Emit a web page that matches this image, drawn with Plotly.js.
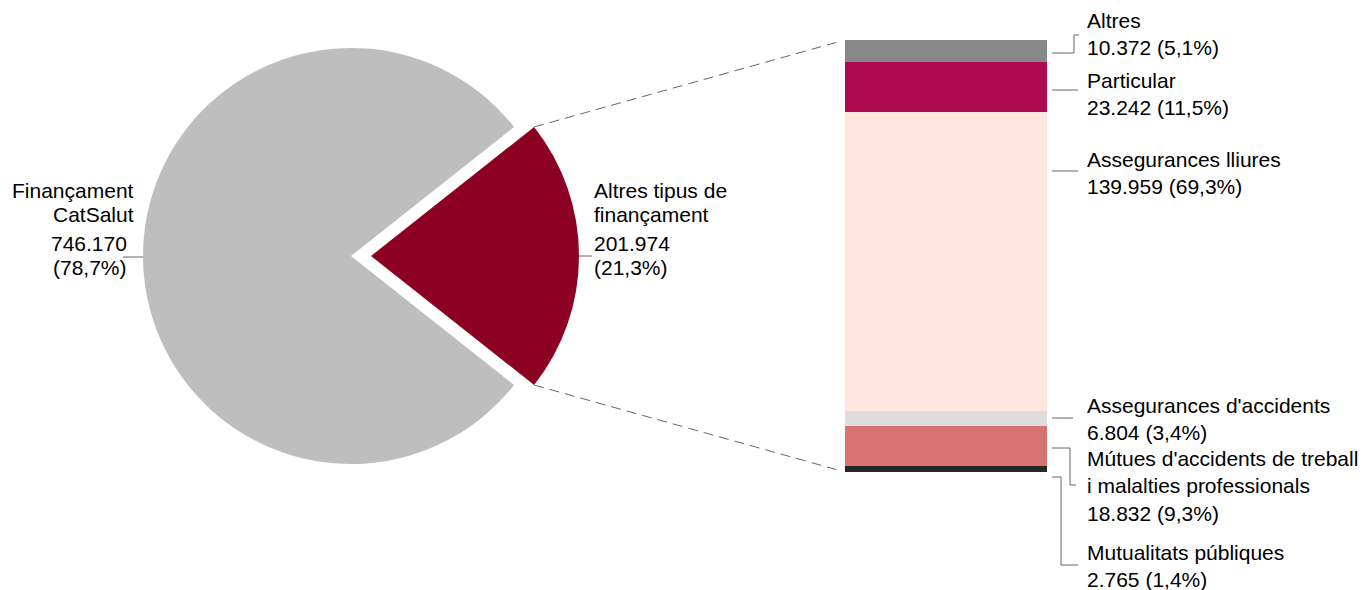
<!DOCTYPE html>
<html><head><meta charset="utf-8">
<script src="https://cdn.plot.ly/plotly-3.0.1.min.js"></script>
<style>html,body{margin:0;padding:0;background:#fff}</style>
</head><body><div id="chart" style="width:1364px;height:590px"></div>
<script>
// ---- data ----
const pieNames = [["Altres tipus de", "finançament"], ["Finançament", "CatSalut"]];
const pieValues = [201974, 746170];
const pieColors = ["#8C0024", "#BEBEBE"];

const subNames = ["Mutualitats públiques", "Mútues d'accidents de treball<br>i malalties professionals", "Assegurances d'accidents", "Assegurances lliures", "Particular", "Altres"];
const subValues = [2765, 18832, 6804, 139959, 23242, 10372];
const subColors = ["#262626", "#D67272", "#DDDDDD", "#FEE5DD", "#AE0A4F", "#878787"];

// ---- helpers ----
const W = 1364, H = 590;
const px = x => x / W, py = y => 1 - y / H;
const fmtInt = v => v.toString().replace(/\B(?=(\d{3})+(?!\d))/g, ".");
const fmtPct = (v, t) => (v / t * 100).toFixed(1).replace(".", ",") + "%";
const FONT = {family: "Liberation Sans, Arial, sans-serif", size: 21, color: "#000"};
const LINE = {color: "#666", width: 1};

const pieTotal = pieValues.reduce((a, b) => a + b, 0);
const subTotal = subValues.reduce((a, b) => a + b, 0);
const frac = pieValues[0] / pieTotal;

// pie geometry (pixels)
const cx = 351, cy = 256, r = 208, pullPx = 20;
const pull = pullPx / r;
const half = r * (1 + pull);

// bar geometry (pixels)
const bx0 = 845, bx1 = 1047, by0 = 40, by1 = 472;

const traces = [{
  type: "pie", values: pieValues, labels: pieNames.map(n => n.join(" ")),
  marker: {colors: pieColors, line: {width: 0}},
  sort: false, direction: "clockwise", rotation: 90 - frac * 180,
  pull: [pull, 0], textinfo: "none", hoverinfo: "none", showlegend: false,
  domain: {x: [px(cx - half), px(cx + half)], y: [py(cy + half), py(cy - half)]}
}];
subValues.forEach((v, i) => {
  traces.push({type: "bar", x: [0], y: [v], width: [1], name: subNames[i],
    marker: {color: subColors[i], line: {width: 0}},
    xaxis: "x", yaxis: "y", hoverinfo: "none", showlegend: false});
});

const annotations = [];
const shapes = [];

// pie labels
const rightLines = [pieNames[0][0], pieNames[0][1], fmtInt(pieValues[0]), "(" + fmtPct(pieValues[0], pieTotal) + ")"];
const leftLines = [pieNames[1][0], pieNames[1][1], fmtInt(pieValues[1]), "(" + fmtPct(pieValues[1], pieTotal) + ")"];
const lineY = [190, 214, 243, 268];
rightLines.forEach((t, i) => annotations.push({xref: "paper", yref: "paper", x: px(592), y: py(lineY[i]),
  xanchor: "left", yanchor: "middle", text: t, showarrow: false, font: FONT}));
leftLines.forEach((t, i) => annotations.push({xref: "paper", yref: "paper", x: px(i < 2 ? 136 : 129), y: py(lineY[i]),
  xanchor: "right", yanchor: "middle", text: t, showarrow: false, font: FONT}));
// pie leader lines
const leftEdge = cx - r, rightEdge = cx + pullPx + r;
shapes.push({type: "line", xref: "paper", yref: "paper", x0: px(leftEdge - 20), x1: px(leftEdge), y0: py(257), y1: py(257), line: LINE});
shapes.push({type: "line", xref: "paper", yref: "paper", x0: px(rightEdge), x1: px(592), y0: py(256), y1: py(256), line: LINE});

// dashed connectors from pulled slice corners to bar corners
const a = frac * Math.PI;
const apx = cx + pullPx;
const topC = [apx + r * Math.cos(a), cy - r * Math.sin(a)];
const botC = [apx + r * Math.cos(a), cy + r * Math.sin(a)];
[[topC, [bx0, by0]], [botC, [bx0, by1]]].forEach(([p0, p1]) => {
  const dx = p1[0] - p0[0], dy = p1[1] - p0[1], L = Math.hypot(dx, dy), k = (L - 9) / L;
  shapes.push({type: "line", xref: "paper", yref: "paper",
    x0: px(p0[0]), y0: py(p0[1]), x1: px(p0[0] + dx * k), y1: py(p0[1] + dy * k),
    line: {color: "#666", width: 1, dash: "10px,6px"}});
});

// bar labels (bottom -> top), label centre y and leader path [startY, elbowX, endY, endX]
const labelY = [566, 486, 419, 173, 94, 34];
const leaders = [[477, 1061, 565, 1078], [448, 1070, 485, 1076], [418, 1073, 418, 1073], [171, 1078, 171, 1078], [90, 1078, 90, 1078], [53, 1074, 35, 1079]];
subValues.forEach((v, i) => {
  annotations.push({xref: "paper", yref: "paper", x: px(1085), y: py(labelY[i]), xanchor: "left", yanchor: "middle",
    align: "left", showarrow: false, font: FONT,
    text: subNames[i] + "<br>" + fmtInt(v) + " (" + fmtPct(v, subTotal) + ")"});
  const [sy, ex, ey, endX] = leaders[i];
  const sx = bx1 + 5;
  shapes.push({type: "path", xref: "paper", yref: "paper", line: LINE,
    path: `M${px(sx)},${py(sy)} L${px(ex)},${py(sy)} L${px(ex)},${py(ey)} L${px(endX)},${py(ey)}`});
});

const layout = {
  width: W, height: H, margin: {l: 0, r: 0, t: 0, b: 0},
  paper_bgcolor: "#fff", plot_bgcolor: "#fff", showlegend: false,
  barmode: "stack", bargap: 0,
  xaxis: {domain: [px(bx0), px(bx1)], range: [-0.5, 0.5], visible: false, fixedrange: true},
  yaxis: {domain: [py(by1), py(by0)], range: [0, subTotal], visible: false, fixedrange: true},
  annotations: annotations, shapes: shapes
};
Plotly.newPlot("chart", traces, layout, {staticPlot: true, displayModeBar: false});
</script>
</body></html>
